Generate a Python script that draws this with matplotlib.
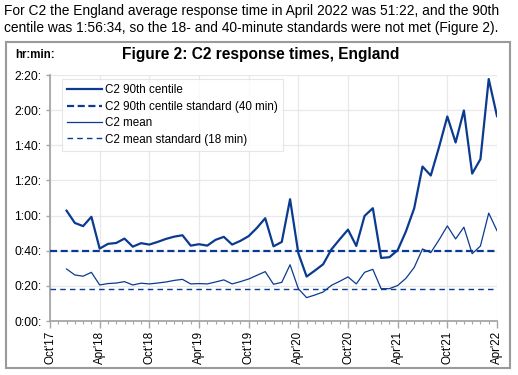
import matplotlib
matplotlib.use("Agg")
import matplotlib.pyplot as plt
from matplotlib.patches import Rectangle
from matplotlib.ticker import FixedLocator, MultipleLocator, FuncFormatter
import pandas as pd

plt.rcParams['font.family'] = ['Liberation Sans', 'DejaVu Sans']

# ---- data (minutes) ----
months = pd.date_range("2017-12-01", "2022-04-01", freq="MS")
p90 = [62.8, 55.8, 54.0, 59.3, 41.2, 43.9, 44.4, 46.9, 42.3, 44.3, 43.5, 45.0, 46.7,
       48.0, 48.8, 42.9, 43.7, 42.9, 46.2, 47.9, 43.5, 45.6, 48.3, 53.0, 58.5,
       42.5, 45.0, 69.3, 38.6, 25.3, 28.7, 32.3, 40.8, 46.5, 52.0, 42.7, 59.8,
       64.2, 35.9, 36.3, 40.3, 51.0, 64.2, 87.9, 82.8, 99.0, 116.4, 101.6, 119.8,
       83.9, 92.1, 137.7, 116.6]
mean = [29.6, 26.2, 25.5, 27.7, 20.5, 21.3, 21.6, 22.4, 20.5, 21.5, 21.1, 21.6, 22.2,
        23.1, 23.7, 21.1, 21.3, 21.1, 22.2, 23.4, 21.1, 22.4, 23.9, 26.0, 28.1,
        20.9, 22.0, 32.0, 18.4, 13.3, 14.8, 16.5, 20.3, 22.6, 25.1, 21.1, 27.7,
        29.4, 18.4, 18.4, 20.2, 24.3, 30.5, 41.0, 38.9, 46.2, 54.1, 46.7, 53.4,
        38.3, 42.7, 61.4, 51.4]
p90_standard = 40
mean_standard = 18
xtick_labels = ["Oct'17", "Apr'18", "Oct'18", "Apr'19", "Oct'19", "Apr'20",
                "Oct'20", "Apr'21", "Oct'21", "Apr'22"]
yticks = [0, 20, 40, 60, 80, 100, 120, 140]

start = pd.Timestamp("2017-10-01")
x = [(m.year - start.year) * 12 + (m.month - start.month) for m in months]

color = '#0B3A91'
grid_c = '#E8E8E8'
axis_c = '#A6A6A6'

fig = plt.figure(figsize=(5.18, 3.75), dpi=100)

# intro text
fig.text(4/518, 1 - 11/375, "For C2 the England average response time in April 2022 was 51:22, and the 90th",
         fontsize=9.9, va='center', ha='left', color='#000000')
fig.text(4/518, 1 - 28/375, "centile was 1:56:34, so the 18- and 40-minute standards were not met (Figure 2).",
         fontsize=9.9, va='center', ha='left', color='#000000')

# chart frame
fig.patches.append(Rectangle((6/518, 1 - 368/375), 504/518, 326/375, transform=fig.transFigure,
                             fill=False, edgecolor='#9A9A9A', linewidth=1.5))

fig.text(15/518, 1 - 55/375, "hr:min:", fontsize=8.3, fontweight='bold', va='center', ha='left')
fig.text(260.5/518, 1 - 55/375, "Figure 2: C2 response times, England", fontsize=11.2,
         fontweight='bold', va='center', ha='center')

ax = fig.add_axes([50/518, 1 - 321/375, 447/518, 246/375])

ax.plot(x, p90, color=color, lw=1.6, label='C2 90th centile', zorder=4)
ax.axhline(p90_standard, color=color, lw=1.6, ls=(0, (3.2, 1.6)), label='C2 90th centile standard (40 min)', zorder=3)
ax.plot(x, mean, color=color, lw=0.9, label='C2 mean', zorder=4)
ax.axhline(mean_standard, color=color, lw=1.0, ls=(0, (4, 3)), label='C2 mean standard (18 min)', zorder=3)

ax.set_xlim(0, 54)
ax.set_ylim(0, 140)

ax.xaxis.set_major_locator(FixedLocator(list(range(0, 55, 6))))
ax.xaxis.set_minor_locator(MultipleLocator(1))
ax.set_xticklabels(xtick_labels, rotation=90, fontsize=8.4)
ax.set_yticks(yticks)
ax.yaxis.set_major_formatter(FuncFormatter(lambda v, p: f"{int(v)//60}:{int(v)%60:02d}:"))
ax.tick_params(axis='y', labelsize=8.7, length=3, color=axis_c, width=1, pad=3)
ax.tick_params(axis='x', which='major', length=5, color=axis_c, width=1, pad=2)
ax.tick_params(axis='x', which='minor', length=2.5, color=axis_c, width=0.8)

ax.grid(True, which='major', color=grid_c, lw=0.9, zorder=0)
ax.set_axisbelow(True)
for s in ['top', 'right']:
    ax.spines[s].set_visible(False)
for s in ['left', 'bottom']:
    ax.spines[s].set_color(axis_c)
    ax.spines[s].set_linewidth(1.3)

leg = ax.legend(loc='upper left', bbox_to_anchor=(12/447, 1 - 4/246), fontsize=8.4,
                frameon=True, fancybox=False, edgecolor='#E0E0E0', handlelength=3.0,
                handletextpad=0.2, borderpad=0.45, labelspacing=0.38, borderaxespad=0)
leg.get_frame().set_linewidth(0.8)

fig.savefig("out.png", dpi=100)
